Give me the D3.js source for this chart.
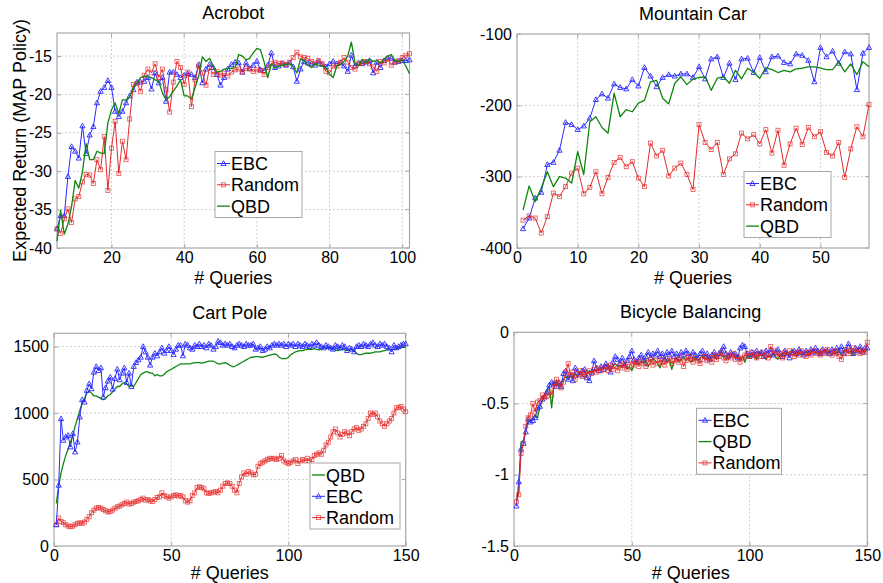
<!DOCTYPE html>
<html>
<head>
<meta charset="utf-8">
<script src="https://d3js.org/d3.v7.min.js"></script>
<style>
  body { margin: 0; background: #fff; }
  svg text { font-family: "Liberation Sans", Arial, sans-serif; fill: #000; }
</style>
</head>
<body>
<div id="chart"></div>
<script>
// ---- data ----

// Acrobot, queries 5..102
var acroStart = 5;
var acroEBC = [-37.5,-35.8,-35.8,-30.7,-26.8,-27.4,-28.3,-24.1,-27.7,-25.3,
  -24.2,-21.1,-19.6,-19.1,-18.2,-19.1,-22.2,-22.9,-22.2,-21.1,
  -20.2,-19.4,-18.4,-18.4,-18.3,-17.8,-19.3,-17.2,-18.5,-17.8,
  -20.9,-17.1,-17.1,-17.4,-17.8,-17.5,-17.3,-17.4,-17.8,-16.1,
  -18.5,-16.7,-16.1,-16.5,-17.4,-18.8,-17.8,-16.7,-16.1,-15.8,
  -15.9,-17.1,-15.9,-16.6,-16.2,-15.7,-16.8,-16.9,-16.2,-14.6,
  -16.5,-16.3,-16.0,-16.2,-15.9,-16.4,-18.3,-16.7,-15.7,-15.9,
  -16.0,-16.2,-15.7,-16.1,-16.4,-16.0,-15.7,-16.0,-15.9,-16.3,
  -17.0,-14.9,-16.3,-15.9,-16.0,-15.8,-15.6,-17.2,-15.8,-16.5,
  -15.6,-15.3,-15.3,-15.8,-15.7,-15.6,-15.6,-15.5];
var acroRandom = [-37.5,-38.1,-36.2,-34.9,-36.7,-33.6,-33.3,-31.4,-30.4,-30.5,
  -31.6,-28.5,-29.8,-25.5,-32.5,-27.0,-23.5,-30.3,-26.1,-28.5,
  -23.2,-18.7,-18.6,-19.6,-17.5,-16.7,-17.2,-16.0,-17.8,-16.7,
  -19.4,-22.3,-18.4,-15.7,-16.5,-18.7,-17.1,-21.6,-18.1,-16.3,
  -17.2,-18.8,-16.5,-17.4,-17.0,-17.5,-17.3,-17.6,-17.1,-16.8,
  -16.7,-17.1,-16.6,-16.7,-17.0,-16.8,-16.9,-17.4,-16.5,-16.0,
  -15.8,-16.0,-15.9,-16.1,-15.8,-15.2,-14.5,-15.1,-15.2,-15.3,
  -15.7,-15.9,-15.6,-16.0,-17.0,-17.2,-16.3,-16.3,-15.8,-15.2,
  -15.8,-16.5,-16.7,-16.0,-15.9,-15.7,-16.0,-16.4,-17.0,-15.7,
  -15.9,-15.4,-16.2,-15.8,-15.6,-15.2,-14.9,-14.7];
var acroQBD = [-39.1,-35.1,-38.2,-36.9,-34.6,-31.2,-32.2,-30.1,-26.4,-28.5,
  -28.5,-27.4,-27.6,-27.7,-23.7,-22.0,-21.1,-22.5,-20.7,-20.7,
  -20.3,-19.1,-18.5,-17.8,-17.6,-17.7,-17.8,-18.1,-18.3,-19.8,
  -20.7,-20.3,-19.6,-18.9,-18.1,-20.2,-20.2,-20.6,-19.1,-17.6,
  -15.1,-15.7,-15.3,-16.3,-17.1,-17.0,-16.7,-16.6,-16.6,-16.5,
  -14.8,-15.0,-15.5,-15.3,-14.6,-14.0,-14.2,-15.8,-17.8,-16.0,
  -16.6,-16.3,-16.2,-16.1,-16.0,-16.4,-17.2,-15.4,-15.6,-16.2,
  -16.5,-16.0,-16.2,-16.3,-16.5,-17.4,-17.8,-16.3,-16.1,-15.7,
  -15.0,-13.2,-15.9,-16.3,-15.4,-15.9,-15.4,-15.7,-15.6,-15.9,
  -15.4,-15.0,-14.8,-15.6,-15.7,-15.5,-16.3,-17.3];

// Mountain Car, queries 1..58
var carStart = 1;
var carEBC = [-373,-358,-330,-322,-283,-280,-263,-224,-227,-234,
  -229,-218,-192,-184,-190,-170,-175,-177,-164,-173,
  -147,-159,-174,-161,-157,-159,-156,-156,-161,-146,
  -163,-135,-132,-161,-141,-164,-135,-134,-154,-133,
  -153,-132,-131,-140,-142,-128,-130,-137,-167,-119,
  -132,-124,-141,-125,-128,-178,-127,-119];
var carRandom = [-361,-355,-358,-379,-356,-323,-328,-314,-295,-288,
  -324,-315,-293,-324,-301,-280,-273,-286,-279,-302,
  -314,-253,-271,-263,-299,-288,-281,-297,-318,-227,
  -252,-262,-252,-297,-275,-268,-239,-247,-241,-254,
  -234,-267,-235,-284,-254,-232,-255,-231,-244,-237,
  -266,-271,-252,-301,-261,-230,-244,-199];
var carQBD = [-347,-313,-335,-316,-293,-314,-300,-302,-309,-265,
  -297,-223,-216,-231,-239,-183,-216,-206,-209,-197,
  -193,-167,-165,-190,-198,-169,-160,-171,-163,-161,
  -160,-179,-162,-160,-169,-151,-163,-148,-154,-162,
  -147,-150,-154,-151,-153,-149,-148,-146,-146,-148,
  -150,-150,-139,-153,-142,-157,-139,-146];

// Cart Pole, queries 1..150
var poleStart = 1;
var poleEBC = [160,457,957,795,820,832,745,845,707,782,
  970,1100,1082,1170,1220,1182,1307,1350,1320,1340,
  1120,1190,1240,1270,1180,1260,1330,1250,1300,1340,
  1230,1300,1200,1350,1380,1400,1420,1500,1460,1420,
  1360,1420,1450,1430,1460,1490,1450,1470,1500,1470,
  1440,1480,1510,1510,1430,1520,1510,1490,1480,1510,
  1500,1520,1500,1510,1490,1520,1510,1480,1500,1540,
  1530,1510,1520,1510,1520,1500,1490,1510,1520,1510,
  1500,1520,1510,1510,1520,1480,1490,1500,1470,1480,
  1500,1490,1510,1520,1510,1520,1510,1520,1500,1520,
  1510,1520,1500,1520,1510,1500,1520,1510,1500,1520,
  1510,1530,1510,1500,1490,1510,1500,1490,1480,1510,
  1500,1490,1510,1500,1470,1490,1480,1460,1500,1510,
  1500,1520,1510,1500,1520,1530,1510,1500,1520,1510,
  1520,1500,1490,1460,1510,1490,1500,1510,1520,1520];
var poleQBD = [320,450,550,620,680,730,780,830,900,960,
  1020,1070,1110,1150,1165,1150,1130,1130,1120,1110,
  1100,1110,1130,1140,1160,1180,1200,1200,1220,1230,
  1220,1200,1210,1200,1230,1260,1290,1300,1310,1310,
  1300,1300,1280,1290,1280,1280,1290,1310,1320,1330,
  1340,1350,1360,1370,1370,1370,1370,1370,1375,1380,
  1380,1380,1375,1380,1385,1390,1390,1390,1380,1370,
  1370,1375,1380,1370,1360,1350,1350,1360,1370,1380,
  1390,1400,1410,1420,1420,1425,1425,1420,1420,1425,
  1430,1435,1440,1445,1440,1420,1410,1410,1410,1420,
  1440,1450,1460,1465,1470,1470,1475,1480,1480,1480,
  1485,1480,1475,1480,1490,1490,1495,1490,1480,1475,
  1470,1475,1480,1475,1470,1475,1480,1465,1450,1440,
  1440,1445,1450,1450,1450,1455,1460,1460,1460,1465,
  1470,1475,1480,1475,1480,1480,1490,1495,1495,1495];
var poleRandom = [160,210,185,175,160,150,145,150,160,170,
  175,170,180,200,220,250,270,285,290,285,
  275,265,255,260,270,285,295,300,310,320,
  330,315,320,330,335,340,350,360,345,350,
  340,335,350,365,370,400,380,370,360,370,
  380,385,375,380,370,340,330,340,380,400,
  440,445,440,430,400,395,400,405,410,400,
  420,450,470,475,470,450,420,400,470,520,
  550,540,560,550,535,540,600,620,630,640,
  650,660,655,660,650,660,680,640,630,620,
  630,640,650,620,640,650,640,660,640,650,
  680,690,700,690,720,760,780,820,860,880,
  850,820,840,860,850,830,860,880,890,870,
  880,900,920,960,1000,990,1000,970,940,920,
  900,920,940,960,1000,1040,1040,1050,1030,1010];

// Bicycle Balancing, queries 1..150
var bikeStart = 1;
var bikeEBC = [-1.22,-1.05,-0.82,-0.78,-0.70,-0.61,-0.63,-0.62,-0.60,-0.53,
  -0.52,-0.47,-0.45,-0.42,-0.37,-0.35,-0.36,-0.38,-0.35,-0.38,
  -0.29,-0.27,-0.33,-0.30,-0.34,-0.25,-0.28,-0.30,-0.27,-0.26,
  -0.32,-0.34,-0.28,-0.20,-0.25,-0.27,-0.24,-0.26,-0.22,-0.24,
  -0.28,-0.21,-0.17,-0.19,-0.22,-0.18,-0.23,-0.20,-0.17,-0.13,
  -0.19,-0.21,-0.18,-0.16,-0.20,-0.17,-0.14,-0.18,-0.15,-0.16,
  -0.13,-0.17,-0.15,-0.19,-0.14,-0.16,-0.13,-0.17,-0.15,-0.18,
  -0.14,-0.16,-0.13,-0.15,-0.17,-0.14,-0.16,-0.18,-0.15,-0.13,
  -0.17,-0.15,-0.19,-0.16,-0.14,-0.17,-0.15,-0.13,-0.10,-0.15,
  -0.17,-0.14,-0.16,-0.15,-0.18,-0.11,-0.09,-0.10,-0.15,-0.17,
  -0.14,-0.16,-0.13,-0.15,-0.14,-0.17,-0.13,-0.15,-0.12,-0.16,
  -0.14,-0.12,-0.15,-0.17,-0.13,-0.15,-0.18,-0.14,-0.13,-0.15,
  -0.12,-0.14,-0.16,-0.13,-0.15,-0.12,-0.14,-0.11,-0.13,-0.15,
  -0.12,-0.14,-0.13,-0.15,-0.12,-0.14,-0.11,-0.13,-0.10,-0.15,
  -0.12,-0.08,-0.12,-0.15,-0.11,-0.13,-0.10,-0.14,-0.11,-0.11];
var bikeQBD = [-1.18,-1.12,-0.77,-0.76,-0.68,-0.63,-0.62,-0.60,-0.58,-0.60,
  -0.52,-0.48,-0.44,-0.40,-0.38,-0.53,-0.36,-0.34,-0.38,-0.36,
  -0.33,-0.31,-0.33,-0.30,-0.32,-0.29,-0.31,-0.28,-0.30,-0.32,
  -0.29,-0.27,-0.28,-0.26,-0.27,-0.25,-0.26,-0.24,-0.26,-0.23,
  -0.25,-0.24,-0.22,-0.24,-0.23,-0.25,-0.22,-0.26,-0.24,-0.27,
  -0.23,-0.21,-0.22,-0.20,-0.22,-0.19,-0.24,-0.21,-0.18,-0.20,
  -0.22,-0.25,-0.20,-0.18,-0.21,-0.19,-0.26,-0.20,-0.18,-0.21,
  -0.19,-0.17,-0.20,-0.18,-0.21,-0.19,-0.17,-0.20,-0.18,-0.16,
  -0.19,-0.17,-0.20,-0.18,-0.16,-0.19,-0.17,-0.13,-0.18,-0.16,
  -0.19,-0.17,-0.15,-0.18,-0.16,-0.19,-0.17,-0.21,-0.16,-0.18,
  -0.15,-0.17,-0.19,-0.16,-0.14,-0.17,-0.19,-0.16,-0.18,-0.15,
  -0.17,-0.19,-0.16,-0.15,-0.17,-0.14,-0.16,-0.12,-0.15,-0.17,
  -0.14,-0.16,-0.15,-0.13,-0.16,-0.14,-0.12,-0.15,-0.13,-0.16,
  -0.14,-0.12,-0.15,-0.13,-0.16,-0.14,-0.15,-0.13,-0.16,-0.14,
  -0.12,-0.15,-0.13,-0.16,-0.14,-0.12,-0.15,-0.13,-0.14,-0.12];
var bikeRandom = [-1.19,-1.14,-0.85,-0.78,-0.66,-0.60,-0.58,-0.50,-0.56,-0.49,
  -0.48,-0.44,-0.46,-0.45,-0.42,-0.44,-0.38,-0.33,-0.36,-0.39,
  -0.35,-0.28,-0.22,-0.30,-0.28,-0.33,-0.29,-0.27,-0.31,-0.28,
  -0.30,-0.27,-0.29,-0.26,-0.28,-0.25,-0.27,-0.26,-0.24,-0.27,
  -0.23,-0.26,-0.24,-0.27,-0.23,-0.25,-0.22,-0.26,-0.24,-0.20,
  -0.23,-0.21,-0.24,-0.20,-0.22,-0.24,-0.21,-0.19,-0.23,-0.20,
  -0.22,-0.19,-0.21,-0.23,-0.20,-0.18,-0.22,-0.20,-0.19,-0.21,
  -0.18,-0.24,-0.20,-0.17,-0.19,-0.21,-0.18,-0.20,-0.22,-0.19,
  -0.17,-0.20,-0.18,-0.21,-0.16,-0.19,-0.17,-0.14,-0.18,-0.20,
  -0.16,-0.18,-0.15,-0.19,-0.17,-0.21,-0.18,-0.16,-0.15,-0.17,
  -0.14,-0.16,-0.18,-0.15,-0.17,-0.14,-0.16,-0.18,-0.10,-0.15,
  -0.13,-0.17,-0.15,-0.18,-0.14,-0.16,-0.13,-0.15,-0.17,-0.14,
  -0.16,-0.13,-0.15,-0.17,-0.14,-0.16,-0.13,-0.15,-0.14,-0.16,
  -0.13,-0.15,-0.12,-0.14,-0.16,-0.13,-0.15,-0.17,-0.19,-0.14,
  -0.12,-0.15,-0.13,-0.11,-0.14,-0.12,-0.15,-0.13,-0.14,-0.07];

// tick values
var acroXTicks = [20, 40, 60, 80, 100];
var acroYTicks = [-40, -35, -30, -25, -20, -15];
var carXTicks = [0, 10, 20, 30, 40, 50];
var carYTicks = [-400, -300, -200, -100];
var poleXTicks = [0, 50, 100, 150];
var poleYTicks = [0, 500, 1000, 1500];
var bikeXTicks = [0, 50, 100, 150];
var bikeYTicks = [-1.5, -1, -0.5, 0];

// ---- styles ----
var BLUE = "#2a2aff", RED = "#e42a2a", GREEN = "#0e870e";
var AXIS_GRAY = "#a8a8a8", GRID_GRAY = "#cfcfcf";

var width = 883, height = 583;
var svg = d3.select("#chart").append("svg")
  .attr("width", width)
  .attr("height", height);

function pairs(start, vals) {
  return vals.map(function(v, i){ return [start + i, v]; });
}

var series = {
  EBC: {color: BLUE, marker: "tri", width: 1},
  Random: {color: RED, marker: "sq", width: 1},
  QBD: {color: GREEN, marker: null, width: 1.3}
};

function drawMarker(sel, type, color) {
  if (type == "tri") {
    sel.append("path")
      .attr("d", "M0,-2.8L2.6,1.9L-2.6,1.9Z")
      .attr("fill", "none")
      .attr("stroke", color)
      .attr("stroke-width", 0.9);
  } else if (type == "sq") {
    sel.append("rect")
      .attr("x", -2).attr("y", -2)
      .attr("width", 4).attr("height", 4)
      .attr("fill", "none")
      .attr("stroke", color)
      .attr("stroke-width", 0.9)
      .attr("opacity", 0.75);
  }
}

function drawPanel(p) {
  var g = svg.append("g");
  var x = d3.scaleLinear().domain(p.xDomain).range([p.left, p.right]);
  var y = d3.scaleLinear().domain(p.yDomain).range([p.bottom, p.top]);

  // dashed grid
  g.append("g").selectAll("line").data(p.xTicks.filter(function(d){ return x(d) > p.left + 1 && x(d) < p.right - 1; }))
    .join("line")
    .attr("x1", function(d){ return x(d); }).attr("x2", function(d){ return x(d); })
    .attr("y1", p.top).attr("y2", p.bottom)
    .attr("stroke", GRID_GRAY).attr("stroke-dasharray", "2,2");
  g.append("g").selectAll("line").data(p.yTicks.filter(function(d){ return y(d) > p.top + 1 && y(d) < p.bottom - 1; }))
    .join("line")
    .attr("x1", p.left).attr("x2", p.right)
    .attr("y1", function(d){ return y(d); }).attr("y2", function(d){ return y(d); })
    .attr("stroke", GRID_GRAY).attr("stroke-dasharray", "2,2");

  // axes (ticks inward, matlab style)
  var fmt = function(d){ return String(d); };
  var xAxis = g.append("g")
    .attr("transform", "translate(0," + p.bottom + ")")
    .call(d3.axisBottom(x).tickValues(p.xTicks).tickFormat(fmt).tickSizeInner(-4).tickSizeOuter(0).tickPadding(4));
  var yAxis = g.append("g")
    .attr("transform", "translate(" + p.left + ",0)")
    .call(d3.axisLeft(y).tickValues(p.yTicks).tickFormat(fmt).tickSizeInner(-4).tickSizeOuter(0).tickPadding(5));
  [xAxis, yAxis].forEach(function(a){
    a.select(".domain").remove();
    a.selectAll("line").attr("stroke", AXIS_GRAY);
    a.selectAll("text").style("font-size", "16px")
      .style("font-family", "Liberation Sans, Arial, sans-serif").attr("fill", "#000");
  });
  // ticks on top and right too
  g.append("g").selectAll("line").data(p.xTicks).join("line")
    .attr("x1", function(d){ return x(d); }).attr("x2", function(d){ return x(d); })
    .attr("y1", p.top).attr("y2", p.top + 4).attr("stroke", AXIS_GRAY);
  g.append("g").selectAll("line").data(p.yTicks).join("line")
    .attr("x1", p.right).attr("x2", p.right - 4)
    .attr("y1", function(d){ return y(d); }).attr("y2", function(d){ return y(d); })
    .attr("stroke", AXIS_GRAY);

  // box
  g.append("rect")
    .attr("x", p.left).attr("y", p.top)
    .attr("width", p.right - p.left).attr("height", p.bottom - p.top)
    .attr("fill", "none").attr("stroke", AXIS_GRAY).attr("stroke-width", 1.2);

  // data lines
  var line = d3.line()
    .x(function(d){ return x(d[0]); })
    .y(function(d){ return y(d[1]); });
  p.lines.forEach(function(s){
    var st = series[s.name];
    var data = pairs(s.start, s.values);
    g.append("path")
      .datum(data)
      .attr("d", line)
      .attr("fill", "none")
      .attr("stroke", st.color)
      .attr("stroke-width", st.width)
      .attr("stroke-linejoin", "round");
    if (st.marker) {
      var m = g.append("g").selectAll("g").data(data).join("g")
        .attr("transform", function(d){ return "translate(" + x(d[0]) + "," + y(d[1]) + ")"; });
      drawMarker(m, st.marker, st.color);
    }
  });

  // title & x label
  var cx = (p.left + p.right) / 2;
  g.append("text").attr("x", cx).attr("y", p.top - 14)
    .attr("text-anchor", "middle").style("font-size", "18px").text(p.title);
  g.append("text").attr("x", cx).attr("y", p.bottom + p.xlabelGap)
    .attr("text-anchor", "middle").style("font-size", "18px").text("# Queries");
  if (p.ylabel) {
    g.append("text")
      .attr("transform", "translate(" + 26 + "," + ((p.top + p.bottom) / 2) + ") rotate(-90)")
      .attr("text-anchor", "middle").style("font-size", "18px").text(p.ylabel);
  }

  // legend
  var L = p.legend;
  var lg = g.append("g").attr("transform", "translate(" + L.x + "," + L.y + ")");
  lg.append("rect").attr("width", L.w).attr("height", 66)
    .attr("fill", "#fff").attr("stroke", AXIS_GRAY);
  L.order.forEach(function(name, i){
    var st = series[name];
    var cy = 12 + i * 21.3;
    var row = lg.append("g");
    row.append("line").attr("x1", 2).attr("x2", 15).attr("y1", cy).attr("y2", cy)
      .attr("stroke", st.color).attr("stroke-width", st.width);
    if (st.marker) {
      var mk = row.append("g").attr("transform", "translate(8.5," + cy + ")");
      drawMarker(mk, st.marker, st.color);
    }
    row.append("text").attr("x", 16).attr("y", cy + 6.5)
      .style("font-size", "18px").text(name);
  });
}

drawPanel({
  title: "Acrobot", ylabel: "Expected Return (MAP Policy)",
  left: 57, right: 409.5, top: 33, bottom: 248, xlabelGap: 36,
  xDomain: [5, 102], yDomain: [-40, -12],
  xTicks: acroXTicks, yTicks: acroYTicks,
  lines: [
    {name: "EBC", start: acroStart, values: acroEBC},
    {name: "Random", start: acroStart, values: acroRandom},
    {name: "QBD", start: acroStart, values: acroQBD}
  ],
  legend: {x: 215, y: 151.5, w: 87, order: ["EBC", "Random", "QBD"]}
});

drawPanel({
  title: "Mountain Car",
  left: 517, right: 869, top: 34, bottom: 248, xlabelGap: 36,
  xDomain: [0, 58], yDomain: [-400, -100],
  xTicks: carXTicks, yTicks: carYTicks,
  lines: [
    {name: "EBC", start: carStart, values: carEBC},
    {name: "Random", start: carStart, values: carRandom},
    {name: "QBD", start: carStart, values: carQBD}
  ],
  legend: {x: 744, y: 171.5, w: 87, order: ["EBC", "Random", "QBD"]}
});

drawPanel({
  title: "Cart Pole",
  left: 54, right: 405.7, top: 333.3, bottom: 546, xlabelGap: 33,
  xDomain: [0, 150], yDomain: [0, 1600],
  xTicks: poleXTicks, yTicks: poleYTicks,
  lines: [
    {name: "Random", start: poleStart, values: poleRandom},
    {name: "QBD", start: poleStart, values: poleQBD},
    {name: "EBC", start: poleStart, values: poleEBC}
  ],
  legend: {x: 310, y: 463, w: 90, order: ["QBD", "EBC", "Random"]}
});

drawPanel({
  title: "Bicycle Balancing",
  left: 514, right: 867.3, top: 332.3, bottom: 546, xlabelGap: 33,
  xDomain: [0, 150], yDomain: [-1.5, 0],
  xTicks: bikeXTicks, yTicks: bikeYTicks,
  lines: [
    {name: "QBD", start: bikeStart, values: bikeQBD},
    {name: "EBC", start: bikeStart, values: bikeEBC},
    {name: "Random", start: bikeStart, values: bikeRandom}
  ],
  legend: {x: 696.5, y: 408.3, w: 85, order: ["EBC", "QBD", "Random"]}
});
</script>
</body>
</html>
